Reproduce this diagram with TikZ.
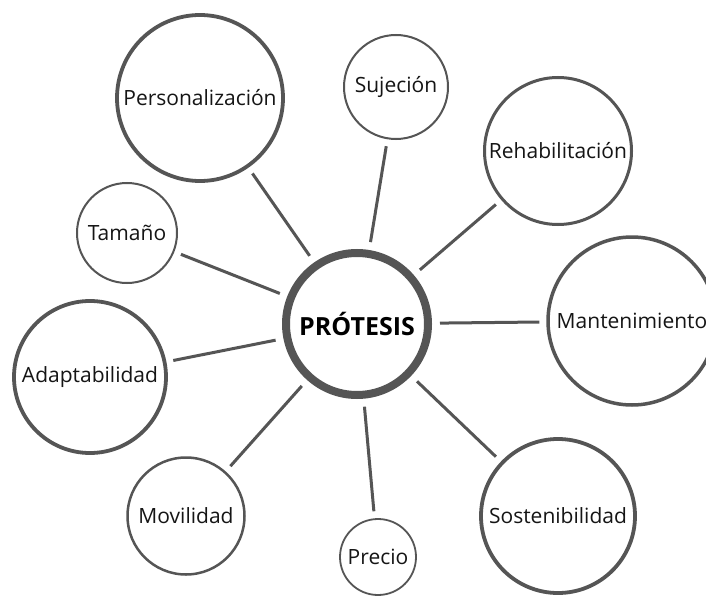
\documentclass[tikz,border=0pt]{standalone}
\usepackage{fontspec}
\setmainfont{Open Sans}
\definecolor{ring}{HTML}{555555}
\definecolor{txt}{HTML}{151515}
\tikzset{
  topic/.style={circle, draw=ring, fill=white, inner sep=0pt, text=txt,
    font=\fontsize{21}{24}\selectfont},
  hub/.style={circle, draw=ring, line width=8pt, fill=white, inner sep=0pt,
    minimum size=142pt, text=black, font=\fontsize{25}{28}\selectfont\bfseries},
  link/.style={draw=ring, line width=3pt, shorten <=8pt, shorten >=7pt}
}
\begin{document}
\begin{tikzpicture}[x=1pt,y=-1pt]
\clip (0,0) rectangle (706,596);
\fill[white] (0,0) rectangle (706,596);
\node[hub] (c) at (357,324) {PRÓTESIS};
\node[topic, line width=3.8pt, minimum size=166pt] (pers) at (200,98) {Personalización};
\node[topic, line width=2pt, minimum size=104pt] (suj) at (396,87) {Sujeción};
\node[topic, line width=3pt, minimum size=147pt] (reh) at (558,151) {Rehabilitación};
\node[topic, line width=3.5pt, minimum size=168pt] (man) at (632,321) {Mantenimiento};
\node[topic, line width=3.8pt, minimum size=154pt] (sos) at (558,516) {Sostenibilidad};
\node[topic, line width=1.8pt, minimum size=76pt] (pre) at (378,557) {Precio};
\node[topic, line width=2.5pt, minimum size=117pt] (mov) at (186,516) {Movilidad};
\node[topic, line width=3.8pt, minimum size=152pt] (ada) at (90,377) {Adaptabilidad};
\node[topic, line width=2pt, minimum size=100pt] (tam) at (127,233) {Tamaño};
\foreach \n in {pers,suj,reh,man,sos,pre,mov,ada,tam}
  \draw[link] (c) -- (\n);
\end{tikzpicture}
\end{document}
